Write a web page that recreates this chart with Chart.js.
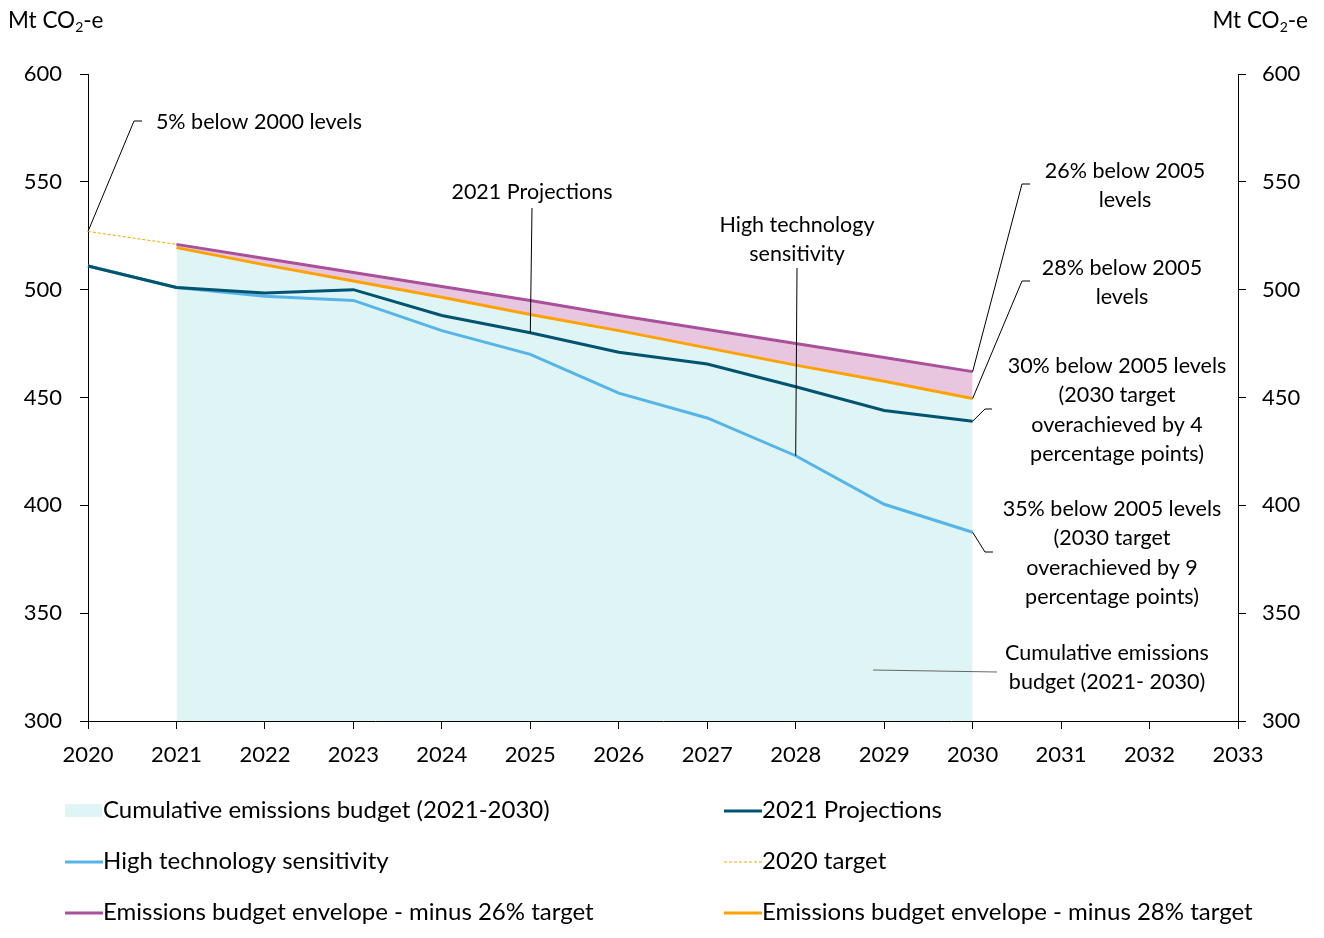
<!DOCTYPE html>
<html>
<head>
<meta charset="utf-8">
<script src="https://cdn.jsdelivr.net/npm/chart.js@4.4.1/dist/chart.umd.min.js"></script>
<style>
  body { margin: 0; background: #fff; font-family: Lato, sans-serif; }
  #wrap { position: relative; width: 1324px; height: 938px; }
  .unit { position: absolute; top: 6px; font-size: 22.5px; color: #000; }
  .unit sub { font-size: 14px; vertical-align: -4px; }
</style>
</head>
<body>
<div id="wrap">
  <canvas id="emChart" width="1324" height="938"></canvas>
  <div class="unit" style="left:8px">Mt CO<sub>2</sub>-e</div>
  <div class="unit" style="right:16px">Mt CO<sub>2</sub>-e</div>
</div>
<script>
// Years along the x axis
const years = ['2020', '2021', '2022', '2023', '2024', '2025', '2026', '2027', '2028', '2029', '2030', '2031', '2032', '2033'];

// Series values (Mt CO2-e), null where the series is not shown
const projections2021 = [511, 501, 498.5, 500, 488, 480, 471, 465.5, 455, 444, 439];
const highTech = [511, 501, 497, 495, 481, 470, 452, 440.5, 423, 400.5, 387.5];
const target2020 = [527, 521];
const envelope26 = [null, 521, 514.5, 508, 501.5, 495, 488, 481.5, 475, 468.5, 462];
const envelope28 = [null, 519.5, 511.5, 504, 496.5, 488.5, 481, 473, 465, 457.5, 449.5];
const budget = [null, 519.5, 511.5, 504, 496.5, 488.5, 481, 473, 465, 457.5, 449.5];

const yTicks = [300, 350, 400, 450, 500, 550, 600];

const FONT = 'Lato, sans-serif';

// Annotation texts with leader lines
const notes = [
  { lines: ['5% below 2000 levels'], x: 259, y: 122, anchor: [0, target2020[0]], path: [[134, 121], [142, 121]] },
  { lines: ['2021 Projections'], x: 532, y: 192, anchor: [5, projections2021[5]], path: [[532, 208]] },
  { lines: ['High technology', 'sensitivity'], x: 797, y: 225, anchor: [8, highTech[8]], path: [[797, 268]] },
  { lines: ['26% below 2005', 'levels'], x: 1125, y: 171, anchor: [10, envelope26[10]], path: [[1022, 184], [1030, 184]] },
  { lines: ['28% below 2005', 'levels'], x: 1122, y: 268, anchor: [10, envelope28[10]], path: [[1022, 281], [1030, 281]] },
  { lines: ['30% below 2005 levels', '(2030 target', 'overachieved by 4', 'percentage points)'], x: 1117, y: 366, anchor: [10, projections2021[10]], path: [[985, 409], [992, 409]] },
  { lines: ['35% below 2005 levels', '(2030 target', 'overachieved by 9', 'percentage points)'], x: 1112, y: 509, anchor: [10, highTech[10]], path: [[985, 552], [993, 552]] },
  { lines: ['Cumulative emissions', 'budget (2021- 2030)'], x: 1107, y: 653, anchor: null, path: [[873, 670], [997, 672]], grey: true }
];

const notesPlugin = {
  id: 'notes',
  afterDatasetsDraw(chart) {
    const ctx = chart.ctx;
    const xs = chart.scales.x, ys = chart.scales.y;
    ctx.save();
    notes.forEach(n => {
      ctx.beginPath();
      ctx.lineWidth = 1;
      ctx.strokeStyle = n.grey ? '#666' : '#000';
      let pts = n.path.slice();
      if (n.anchor) {
        pts.unshift([xs.getPixelForValue(n.anchor[0]), ys.getPixelForValue(n.anchor[1])]);
      }
      ctx.moveTo(pts[0][0], pts[0][1]);
      pts.slice(1).forEach(p => ctx.lineTo(p[0], p[1]));
      ctx.stroke();
      ctx.fillStyle = '#000';
      ctx.font = '21.5px ' + FONT;
      ctx.textAlign = 'center';
      ctx.textBaseline = 'middle';
      n.lines.forEach((t, i) => ctx.fillText(t, n.x, n.y + i * 29.5));
    });
    ctx.restore();
  }
};

// Legend in two columns under the chart
const legendPlugin = {
  id: 'twoColLegend',
  afterDraw(chart) {
    const ctx = chart.ctx;
    const order = [0, 1, 2, 3, 4, 5];
    ctx.save();
    ctx.font = '24px ' + FONT;
    ctx.textBaseline = 'middle';
    ctx.textAlign = 'left';
    order.forEach((di, i) => {
      const ds = chart.data.datasets[di];
      const col = i % 2, row = Math.floor(i / 2);
      const x = col === 0 ? 65 : 724;
      const y = 810 + row * 51;
      if (ds.fill === 'start') {
        ctx.fillStyle = ds.backgroundColor;
        ctx.fillRect(x, y - 6, 37, 13);
      } else {
        ctx.beginPath();
        ctx.strokeStyle = ds.borderColor;
        ctx.lineWidth = ds.borderWidth;
        ctx.setLineDash(ds.borderDash || []);
        ctx.moveTo(x, y + 1);
        ctx.lineTo(x + 38, y + 1);
        ctx.stroke();
        ctx.setLineDash([]);
      }
      ctx.fillStyle = '#000';
      ctx.fillText(ds.label, x + 38, y);
    });
    ctx.restore();
  }
};

const ctx = document.getElementById('emChart').getContext('2d');
const emChart = new Chart(ctx, {
  type: 'line',
  data: {
    labels: years,
    datasets: [
      {
        label: 'Cumulative emissions budget (2021-2030)',
        data: budget,
        borderWidth: 0,
        borderColor: 'rgba(0,0,0,0)',
        backgroundColor: '#DFF4F5',
        fill: 'start',
        order: 6
      },
      {
        label: '2021 Projections',
        data: projections2021,
        borderColor: '#005470',
        borderWidth: 3,
        fill: false,
        order: 2
      },
      {
        label: 'High technology sensitivity',
        data: highTech,
        borderColor: '#55B4E8',
        borderWidth: 3,
        fill: false,
        order: 3
      },
      {
        label: '2020 target',
        data: target2020,
        borderColor: '#FFA200',
        borderWidth: 1,
        borderDash: [3, 2],
        fill: false,
        order: 1
      },
      {
        label: 'Emissions budget envelope - minus 26% target',
        data: envelope26,
        borderColor: '#A8519A',
        borderWidth: 3,
        backgroundColor: '#E9C6DF',
        fill: 5,
        order: 5
      },
      {
        label: 'Emissions budget envelope - minus 28% target',
        data: envelope28,
        borderColor: '#FFA200',
        borderWidth: 3,
        fill: false,
        order: 4
      }
    ]
  },
  options: {
    responsive: false,
    animation: false,
    layout: { padding: { top: 74, bottom: 167, left: 0, right: 0 } },
    elements: { point: { radius: 0, hoverRadius: 0 }, line: { tension: 0 } },
    plugins: { legend: { display: false }, tooltip: { enabled: false } },
    scales: {
      x: {
        offset: false,
        grid: { display: true, drawOnChartArea: false, drawTicks: true, tickLength: 8, color: '#000' },
        border: { color: '#000', width: 1 },
        ticks: { color: '#000', font: { family: FONT, size: 22 }, padding: 13, maxRotation: 0, autoSkip: false },
        afterFit(s) { s.height = 50; }
      },
      y: {
        position: 'left',
        min: 300, max: 600,
        afterBuildTicks(s) { s.ticks = yTicks.map(v => ({ value: v })); },
        grid: { display: true, drawOnChartArea: false, drawTicks: true, tickLength: 8, color: '#000' },
        border: { color: '#000', width: 1 },
        ticks: { color: '#000', font: { family: FONT, size: 22 }, padding: 18 },
        afterFit(s) { s.width = 88; }
      },
      y2: {
        position: 'right',
        min: 300, max: 600,
        afterBuildTicks(s) { s.ticks = yTicks.map(v => ({ value: v })); },
        grid: { display: true, drawOnChartArea: false, drawTicks: true, tickLength: 8, color: '#000' },
        border: { color: '#000', width: 1 },
        ticks: { color: '#000', font: { family: FONT, size: 22 }, padding: 16 },
        afterFit(s) { s.width = 86; }
      }
    }
  },
  plugins: [notesPlugin, legendPlugin]
});
</script>
</body>
</html>
